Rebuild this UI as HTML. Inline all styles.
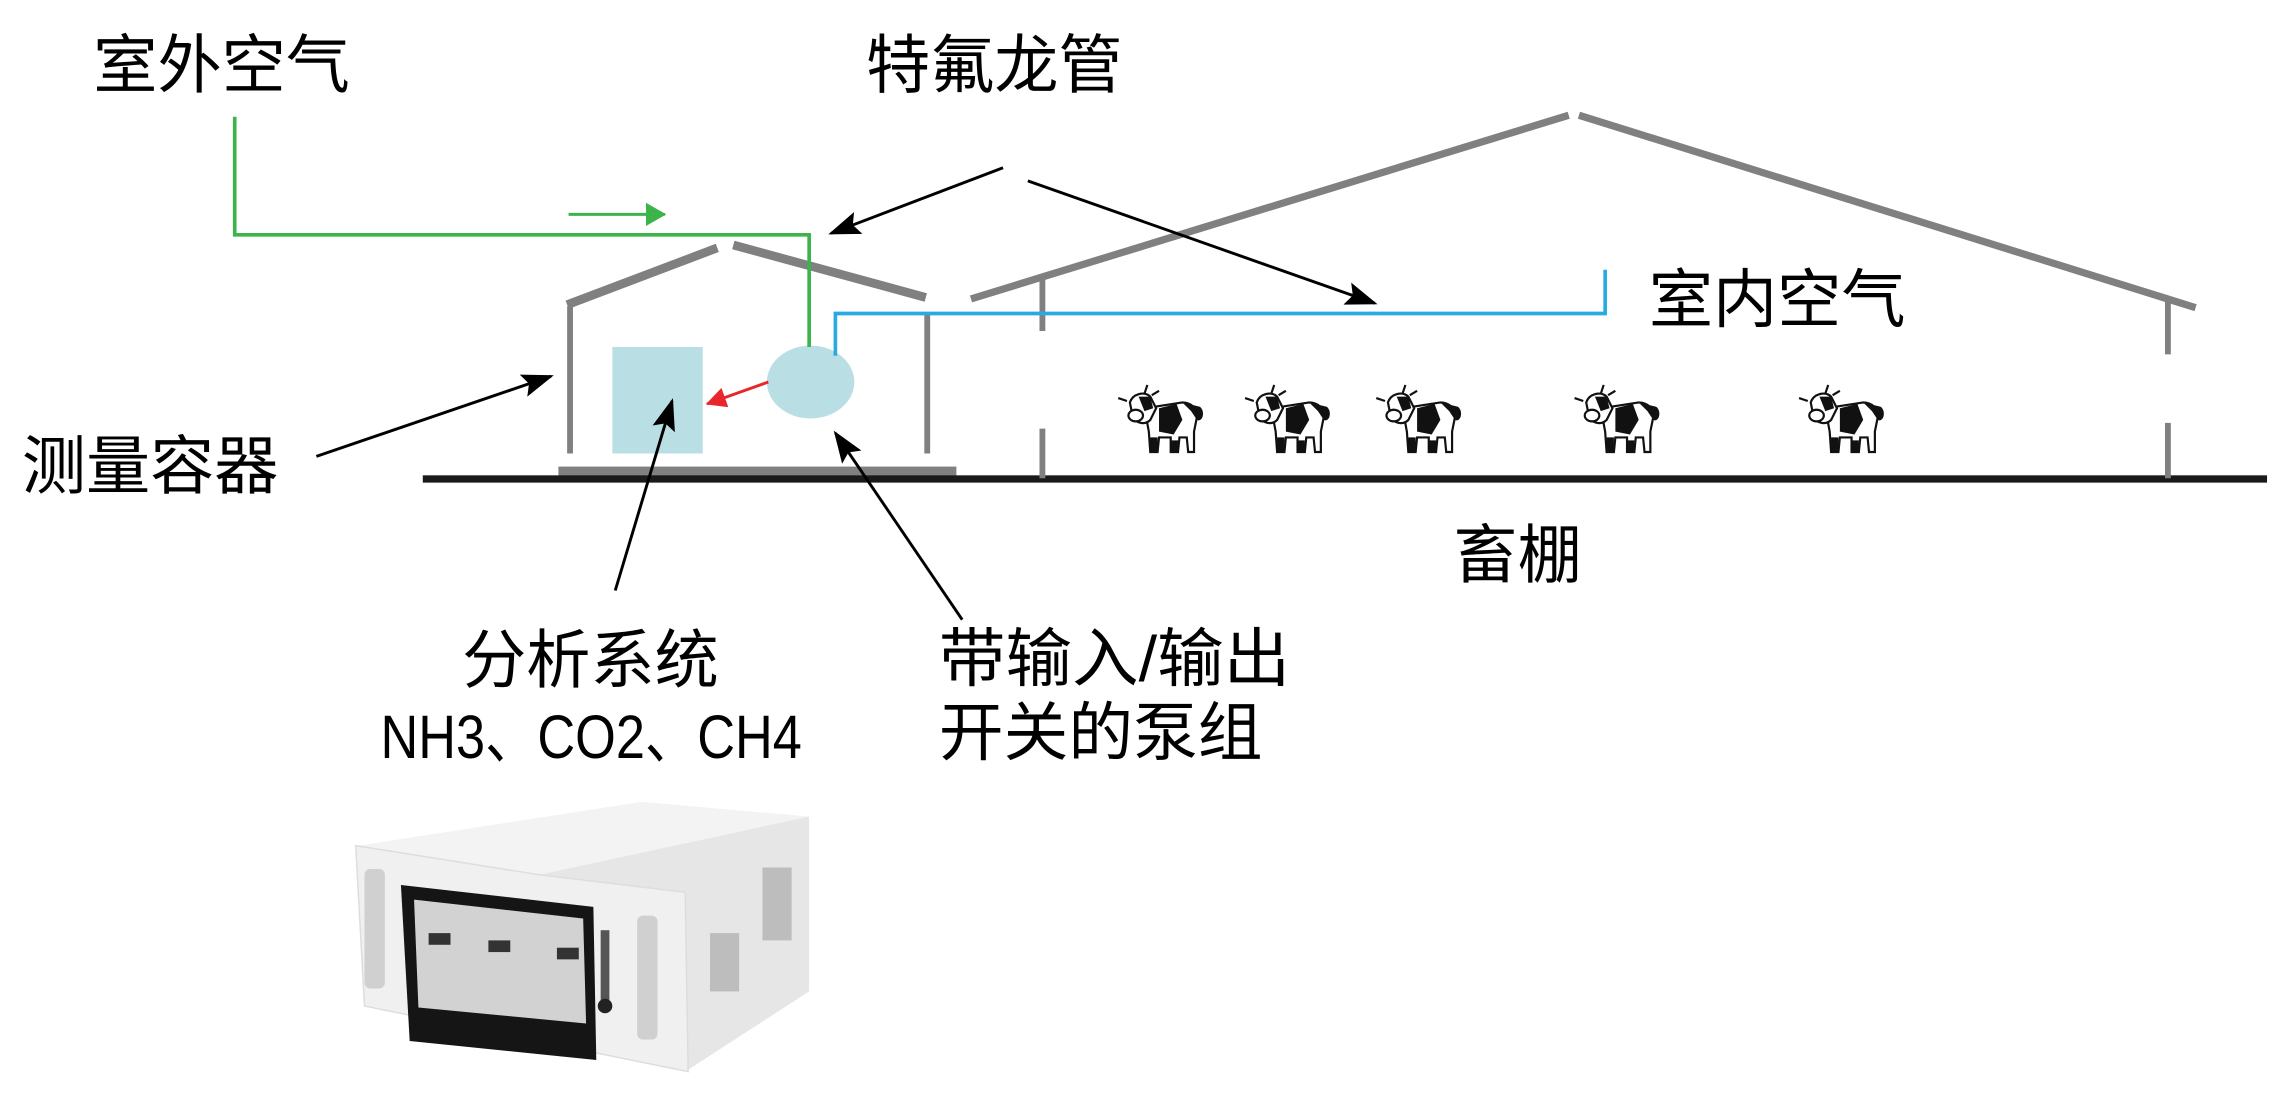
<!DOCTYPE html>
<html><head><meta charset="utf-8"><style>
html,body{margin:0;padding:0;background:#fff;}
svg{display:block;}
text{font-family:"Liberation Sans","Noto Sans CJK SC",sans-serif;fill:#000;}
</style></head><body>
<svg width="2286" height="1095" viewBox="0 0 1568 751" xmlns="http://www.w3.org/2000/svg">
<defs>
<marker id="abk" markerWidth="22" markerHeight="16" refX="20" refY="8" orient="auto" markerUnits="userSpaceOnUse"><path d="M0,0 L22,8 L0,16 L4,8 z" fill="#000"/></marker>
<marker id="ag" markerWidth="14" markerHeight="16" refX="13" refY="8" orient="auto" markerUnits="userSpaceOnUse"><path d="M0,0 L14,8 L0,16 z" fill="#3cb44b"/></marker>
<marker id="ar" markerWidth="14" markerHeight="14" refX="13" refY="7" orient="auto" markerUnits="userSpaceOnUse"><path d="M0,0 L14,7 L0,14 z" fill="#e8262b"/></marker>
<g id="cow">
<path d="M14,14 L40,10 C46,10 50,14 50,20 L48,30 L48,44 L44,44 L43,34 L38,34 L37,44 L32,44 L32,34 L24,34 L23,44 L18,44 L17,30 z" fill="#fff" stroke="#111" stroke-width="1.5"/>
<path d="M24,14 L36,11 L40,22 L34,32 L24,30 z" fill="#111"/>
<path d="M40,10 L52,13 C56,16 54,24 50,22 L46,16 z" fill="#111"/>
<path d="M18,44 L18,34 L23,34 L23,44 z M32,44 L32,36 L37,36 L37,44 z" fill="#111"/>
<path d="M4,10 C6,4 14,2 18,6 L22,14 L18,22 C14,26 8,24 6,20 z" fill="#fff" stroke="#111" stroke-width="1.5"/>
<path d="M10,6 L18,6 L20,14 L14,16 z" fill="#111"/>
<ellipse cx="8" cy="19" rx="5" ry="4" fill="#fff" stroke="#111" stroke-width="1.5"/>
<path d="M2,9 L-4,7 M14,4 L16,-2 M19,5 L24,2" stroke="#111" stroke-width="1.5"/>
</g>
</defs>

<!-- texts -->
<text x="64" y="60" font-size="44" textLength="176" lengthAdjust="spacingAndGlyphs">室外空气</text>
<text x="594" y="60" font-size="44" textLength="176" lengthAdjust="spacingAndGlyphs">特氟龙管</text>
<text x="1131" y="221" font-size="44" textLength="176" lengthAdjust="spacingAndGlyphs">室内空气</text>
<text x="15" y="335" font-size="44" textLength="176" lengthAdjust="spacingAndGlyphs">测量容器</text>
<text x="997" y="396" font-size="44" textLength="88" lengthAdjust="spacingAndGlyphs">畜棚</text>
<text x="317" y="468" font-size="44" textLength="176" lengthAdjust="spacingAndGlyphs">分析系统</text>
<text x="261" y="520" font-size="42" textLength="289" lengthAdjust="spacingAndGlyphs">NH3、CO2、CH4</text>
<text x="644" y="467" font-size="44" textLength="241" lengthAdjust="spacingAndGlyphs">带输入/输出</text>
<text x="644" y="518" font-size="44" textLength="222" lengthAdjust="spacingAndGlyphs">开关的泵组</text>

<!-- ground -->
<rect x="383" y="320" width="273" height="7" fill="#808080"/>
<rect x="290" y="326" width="1265" height="5" fill="#1a1a1a"/>

<g stroke="#808080" fill="none">
<line x1="389" y1="209" x2="492" y2="170" stroke-width="6"/>
<line x1="503" y1="168" x2="635" y2="204" stroke-width="6"/>
<line x1="391" y1="210" x2="391" y2="311" stroke-width="4"/>
<line x1="636" y1="215" x2="636" y2="311" stroke-width="4"/>
<line x1="666" y1="205" x2="1076" y2="79" stroke-width="5"/>
<line x1="1083" y1="79" x2="1506" y2="211" stroke-width="5"/>
<line x1="715" y1="188" x2="715" y2="227" stroke-width="4"/>
<line x1="715" y1="294" x2="715" y2="328" stroke-width="4"/>
<line x1="1487" y1="207" x2="1487" y2="243" stroke-width="4"/>
<line x1="1487" y1="290" x2="1487" y2="328" stroke-width="4"/>
</g>

<rect x="420" y="238" width="62" height="73" fill="#b9dfe4"/>
<ellipse cx="556" cy="262" rx="30" ry="25" fill="#b9dfe4"/>
<line x1="527" y1="262" x2="485" y2="277" stroke="#e8262b" stroke-width="2" marker-end="url(#ar)"/>

<polyline points="161,80 161,161 555,161 555,238" fill="none" stroke="#3cb44b" stroke-width="2.5"/>
<line x1="390" y1="147" x2="456" y2="147" stroke="#3cb44b" stroke-width="2" marker-end="url(#ag)"/>
<polyline points="573,244 573,215 1101,215 1101,185" fill="none" stroke="#29abe2" stroke-width="2.5"/>

<g stroke="#000" stroke-width="2" fill="none">
<line x1="688" y1="115" x2="570" y2="160" marker-end="url(#abk)"/>
<line x1="705" y1="124" x2="943" y2="208" marker-end="url(#abk)"/>
<line x1="217" y1="313" x2="378" y2="258" marker-end="url(#abk)"/>
<line x1="422" y1="405" x2="461" y2="275" marker-end="url(#abk)"/>
<line x1="660" y1="425" x2="573" y2="297" marker-end="url(#abk)"/>
</g>

<use href="#cow" x="771" y="266"/>
<use href="#cow" x="858" y="266"/>
<use href="#cow" x="948" y="266"/>
<use href="#cow" x="1084" y="266"/>
<use href="#cow" x="1238" y="266"/>

<!-- instrument -->
<g>
<polygon points="246,580 440,550 555,560 370,600" fill="#f3f3f3"/>
<polygon points="370,600 555,560 555,680 470,735 468,620" fill="#e6e6e6"/>
<polygon points="244,580 370,600 470,612 472,735 250,690" fill="#f0f0f0" stroke="#ddd" stroke-width="1"/>
<rect x="250" y="596" width="14" height="82" rx="4" fill="#d0d0d0"/>
<rect x="437" y="628" width="14" height="85" rx="4" fill="#d0d0d0"/>
<polygon points="275,607 407,622 409,727 281,714" fill="#151515"/>
<polygon points="284,617 400,630 402,702 287,691" fill="#d2d2d2"/>
<rect x="294" y="640" width="15" height="8" fill="#333"/>
<rect x="335" y="645" width="15" height="8" fill="#333"/>
<rect x="382" y="650" width="15" height="8" fill="#333"/>
<rect x="412" y="638" width="6" height="55" fill="#555"/>
<circle cx="415" cy="690" r="5" fill="#222"/>
<g fill="#bdbdbd">
<rect x="487" y="640" width="20" height="40"/>
<rect x="523" y="595" width="20" height="50"/>
</g>
</g>
</svg>
</body></html>
